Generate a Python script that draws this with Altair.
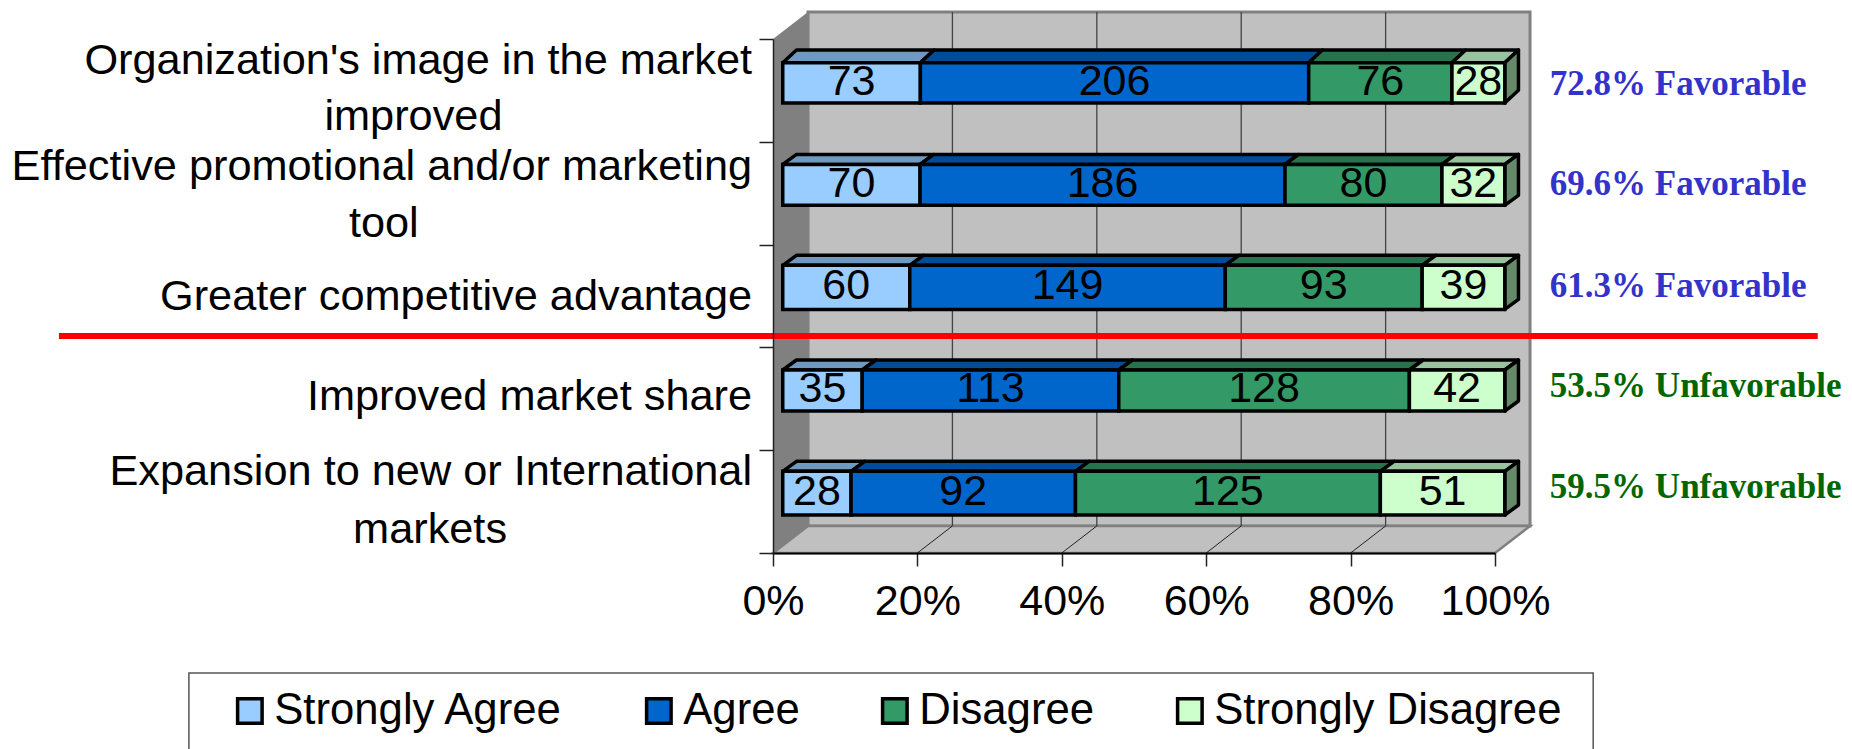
import altair as alt
import pandas as pd

first_lines = ["Organization's image in the market",
               "Effective promotional and/or marketing",
               "Greater competitive advantage",
               "Improved market share",
               "Expansion to new or International"]
first_line_rows = [0.218, 1.248, 2.513, 3.483, 4.213]
second_lines = ["improved", "tool", "markets"]
second_line_rows = [0.758, 1.798, 4.778]
second_line_x = [-49.8, -53.9, -47.5]
responses = ["Strongly Agree", "Agree", "Disagree", "Strongly Disagree"]
strongly_agree = [73, 70, 60, 35, 28]
agree = [206, 186, 149, 113, 92]
disagree = [76, 80, 93, 128, 125]
strongly_disagree = [28, 32, 39, 42, 51]
notes = ["72.8% Favorable", "69.6% Favorable", "61.3% Favorable", "53.5% Unfavorable", "59.5% Unfavorable"]
note_colors = ["#3333cc", "#3333cc", "#3333cc", "#006600", "#006600"]
note_rows = [0.44, 1.41, 2.40, 3.38, 4.36]
front_colors = ["#99ccff", "#0066cc", "#339966", "#ccffcc"]
top_colors = ["#7099c0", "#004c99", "#26734d", "#99c29e"]
side_color = "#66896a"
grid_values = [20, 40, 60, 80]
x_ticks = [0, 20, 40, 60, 80, 100]
y_ticks = [0, 1, 2, 3, 4, 5]
bar_tops = [0.2305, 1.2198, 2.2014, 3.2198, 4.2053]
bar_bottoms = [0.6226, 1.6177, 2.6304, 3.6187, 4.6304]
bar_depths = [0.124, 0.097, 0.097, 0.097, 0.097]

# depth of the fake 3-D, in axis units
WALL_X, WALL_Y = 4.85, 0.263
BAR_X0, BAR_DX = 1.35, 1.9

xs = alt.Scale(domain=[0, 100], nice=False, zero=False)
ys = alt.Scale(domain=[5, 0], nice=False, zero=False)
x_axis = alt.Axis(values=x_ticks, grid=False, labelExpr="datum.value + '%'", title=None, labelOverlap=False,
                  labelFlush=False, labelBound=False,
                  labelFont="Liberation Sans", labelFontSize=43, labelColor="black", labelPadding=14, tickSize=13,
                  tickColor="#222222", domainColor="black", domainWidth=2, tickWidth=1.5, zindex=1)
y_axis = alt.Axis(values=y_ticks, grid=False, labels=False, tickSize=14, title=None,
                  tickColor="#222222", domainColor="#222222", domainWidth=1.5, tickWidth=1.5, zindex=1)
X = lambda f, **k: alt.X(f, type="quantitative", scale=xs, axis=x_axis, **k)
Y = lambda f, **k: alt.Y(f, type="quantitative", scale=ys, axis=y_axis, **k)
X2 = lambda f: alt.X2(f)
Y2 = lambda f: alt.Y2(f)

series = [strongly_agree, agree, disagree, strongly_disagree]
rows = []
for r in range(5):
    total = sum(s[r] for s in series)
    cum = 0.0
    for k, s in enumerate(series):
        a = cum / total * 100 + BAR_X0
        cum += s[r]
        b = cum / total * 100 + BAR_X0
        rows.append(dict(row=r, response=responses[k], value=s[r], a=a, b=b, mid=(a + b) / 2,
                         top=bar_tops[r], bottom=bar_bottoms[r], center=(bar_tops[r] + bar_bottoms[r]) / 2,
                         depth=bar_depths[r], top_color=top_colors[k]))
bars = pd.DataFrame(rows)

top_rows = []
for d in rows:
    top_rows.append(dict(id=f"{d['row']}-{d['response']}", y=d["top"], a=d["a"], b=d["b"], c=d["top_color"]))
    top_rows.append(dict(id=f"{d['row']}-{d['response']}", y=d["top"] - d["depth"], a=d["a"] + BAR_DX, b=d["b"] + BAR_DX, c=d["top_color"]))
top_faces = pd.DataFrame(top_rows)

side_rows = []
for d in rows:
    if d["response"] == responses[-1]:
        side_rows.append(dict(id=d["row"], x=d["b"], y1=d["top"], y2=d["bottom"]))
        side_rows.append(dict(id=d["row"], x=d["b"] + BAR_DX, y1=d["top"] - d["depth"], y2=d["bottom"] - d["depth"]))
side_faces = pd.DataFrame(side_rows)

wall_rect = alt.Chart(pd.DataFrame({"a": [WALL_X], "b": [100 + WALL_X], "t": [-WALL_Y], "u": [5 - WALL_Y]})).mark_rect(
    fill="#c0c0c0", stroke="#808080", strokeWidth=3).encode(x=X("a"), x2=X2("b"), y=Y("t"), y2=Y2("u"))

left_wall = alt.Chart(pd.DataFrame({"x": [0, WALL_X], "y1": [0, -WALL_Y], "y2": [5, 5 - WALL_Y]})).mark_area(
    orient="vertical", fill="#808080").encode(x=X("x"), y=Y("y1", stack=None), y2=Y2("y2"))

floor = alt.Chart(pd.DataFrame({"y": [5, 5 - WALL_Y], "a": [0, WALL_X], "b": [100, 100 + WALL_X]})).mark_area(
    orient="horizontal", fill="#c0c0c0", stroke="#808080", strokeWidth=2.5).encode(
    y=Y("y"), x=X("a", stack=None), x2=X2("b"))

grid_df = pd.DataFrame({"g": grid_values})
grid_df["gb"] = grid_df["g"] + WALL_X
grid_df["t"] = -WALL_Y
grid_df["u"] = 5 - WALL_Y
grid_df["f"] = 5.0
back_grid = alt.Chart(grid_df).mark_rule(color="#444444", strokeWidth=1.3).encode(x=X("gb"), y=Y("t"), y2=Y2("u"))
floor_grid = alt.Chart(grid_df).mark_rule(color="#222222", strokeWidth=1).encode(
    x=X("g"), x2=X2("gb"), y=Y("f"), y2=Y2("u"))

tops = alt.Chart(top_faces).mark_area(orient="horizontal", stroke="black", strokeWidth=3.5, strokeJoin="round").encode(
    y=Y("y"), x=X("a", stack=None), x2=X2("b"), detail="id:N",
    fill=alt.Fill("c:N", scale=None, legend=None))

sides = alt.Chart(side_faces).mark_area(orient="vertical", fill=side_color, stroke="black", strokeWidth=3.5,
                                        strokeJoin="round").encode(
    x=X("x"), y=Y("y1", stack=None), y2=Y2("y2"), detail="id:N")

fronts = alt.Chart(bars).mark_rect(stroke="black", strokeWidth=3.5).encode(
    x=X("a"), x2=X2("b"), y=Y("top"), y2=Y2("bottom"),
    color=alt.Color("response:N", scale=alt.Scale(domain=responses, range=front_colors), sort=responses, legend=alt.Legend(
        title=None, orient="none", legendX=-545, legendY=650, direction="horizontal", columns=4,
        gridAlign="each", columnPadding=73, labelOffset=2.5, labelFont="Liberation Sans", labelFontSize=43.7,
        labelColor="black", symbolType="square", symbolSize=600, symbolStrokeColor="black", symbolStrokeWidth=3.5,
        symbolOpacity=1, labelLimit=500, padding=0)))

values = alt.Chart(bars).mark_text(font="Liberation Sans", fontSize=43, color="black", baseline="middle", dy=-1).encode(
    x=X("mid"), y=Y("center"), text="value:Q")

first_df = pd.DataFrame({"t": first_lines, "y": first_line_rows, "x": [-2.9] * 5})
first_text = alt.Chart(first_df).mark_text(
    font="Liberation Sans", fontSize=43.3, color="black", align="right", baseline="middle").encode(
    x=X("x"), y=Y("y"), text="t:N")
second_df = pd.DataFrame({"t": second_lines, "y": second_line_rows, "x": second_line_x})
second_text = alt.Chart(second_df).mark_text(
    font="Liberation Sans", fontSize=43.3, color="black", align="center", baseline="middle").encode(
    x=X("x"), y=Y("y"), text="t:N")

notes_df = pd.DataFrame({"t": notes, "c": note_colors, "y": note_rows, "x": [107.6] * 5})
note_text = alt.Chart(notes_df).mark_text(font="Liberation Serif", fontWeight="bold", fontSize=35, align="left",
                                          baseline="middle").encode(
    x=X("x"), y=Y("y"), text="t:N", color=alt.Color("c:N", scale=None, legend=None))

red = alt.Chart(pd.DataFrame({"a": [-98.9], "b": [144.7], "y": [2.889]})).mark_rule(color="#ff0000", strokeWidth=6).encode(
    x=X("a"), x2=X2("b"), y=Y("y"))

frame = alt.Chart(pd.DataFrame({"a": [-80.9], "b": [113.6], "t": [6.167], "u": [7.2]})).mark_rect(
    fill="white", stroke="#555555", strokeWidth=1.5).encode(x=X("a"), x2=X2("b"), y=Y("t"), y2=Y2("u"))

chart = alt.layer(wall_rect, left_wall, floor, back_grid, floor_grid, tops, sides, fronts, values,
                  first_text, second_text, note_text, red, frame).resolve_scale(color="independent").properties(
    width=722, height=514, autosize="none",
    padding={"left": 765, "top": 31, "right": 349, "bottom": 196},
).configure_view(stroke=None)

chart.save("out.html", embed_options={"renderer": "svg", "actions": False})
